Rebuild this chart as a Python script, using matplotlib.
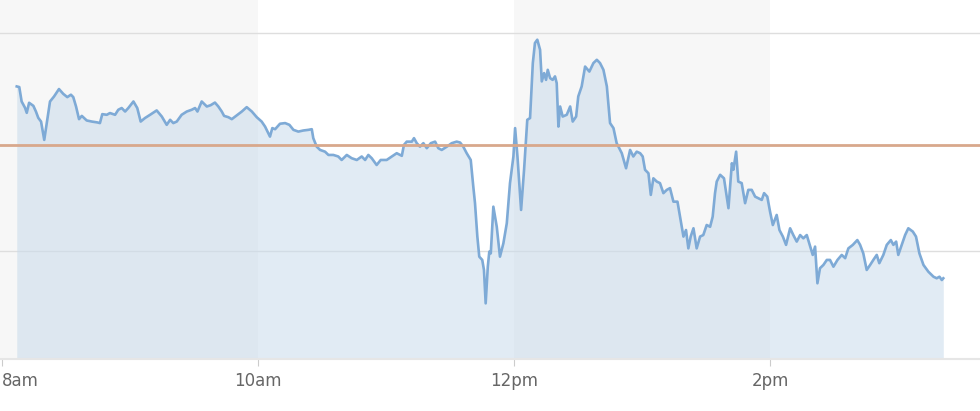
import numpy as np
import matplotlib.pyplot as plt

# minutes after 8am and price
minutes = [6.9, 8.1, 9.2, 10.8, 11.6, 12.7, 14.7, 15.9, 17.0, 18.3, 19.8, 21.0, 22.5, 24.4, 26.7, 28.7,
           30.6, 32.3, 33.4, 34.7, 36.1, 37.4, 39.7, 42.1, 44.7, 45.9, 47.0, 49.1, 50.6, 53.0, 54.5, 56.1,
           57.7, 59.2, 61.6, 63.4, 65.0, 67.0, 69.4, 72.5, 74.9, 77.2, 78.8, 80.3, 81.9, 84.2, 86.6, 88.9,
           90.5, 91.6, 93.6, 96.0, 97.8, 99.8, 101.4, 103.0, 104.1, 106.1, 107.7, 109.7, 112.4, 114.7, 117.1, 119.4,
           121.7, 123.3, 124.8, 125.6, 126.7, 128.0, 130.3, 132.7, 134.7, 136.6, 138.9, 141.2, 143.6, 145.2, 145.9, 147.5,
           149.1, 151.4, 153.0, 155.3, 157.6, 159.2, 161.6, 163.9, 166.3, 168.6, 170.2, 171.7, 173.3, 175.6, 177.5, 180.3,
           182.7, 185.0, 187.4, 188.4, 189.7, 192.1, 193.1, 194.4, 195.9, 197.5, 199.1, 201.0, 203.0, 204.5, 206.1, 208.5,
           210.8, 213.1, 214.7, 216.2, 217.8, 219.7, 220.9, 221.7, 222.8, 223.7, 225.1, 225.9, 226.7, 227.7, 228.4, 229.1,
           230.3, 231.9, 233.4, 235.0, 236.6, 238.1, 239.7, 240.5, 241.6, 243.3, 244.7, 246.2, 247.5, 248.8, 249.8, 250.9,
           252.2, 253.0, 254.1, 255.0, 255.8, 256.9, 258.1, 259.2, 260.0, 260.8, 261.6, 262.8, 264.7, 266.3, 267.5, 269.1,
           270.1, 271.7, 273.3, 275.3, 277.2, 278.8, 280.3, 281.9, 283.5, 285.0, 286.6, 288.1, 290.5, 292.5, 294.4, 295.9,
           297.5, 299.1, 300.3, 301.4, 303.0, 304.1, 305.3, 306.9, 308.4, 310.0, 311.6, 313.1, 314.7, 316.6, 317.8, 318.6,
           319.4, 320.6, 321.7, 322.8, 324.1, 325.6, 327.2, 328.7, 330.3, 331.9, 333.1, 334.2, 335.0, 336.6, 338.4, 340.5,
           342.1, 342.8, 344.1, 345.1, 346.7, 348.3, 349.8, 351.4, 353.0, 354.5, 356.1, 357.2, 358.7, 360.0, 361.3, 363.1,
           364.4, 366.0, 367.5, 369.4, 370.9, 372.5, 374.1, 375.6, 377.2, 378.8, 380.0, 381.1, 382.2, 383.4, 385.0, 386.6,
           388.1, 389.7, 391.6, 393.6, 395.2, 396.7, 398.8, 400.9, 402.2, 403.7, 405.3, 406.9, 408.4, 410.0, 411.2, 413.1,
           414.7, 416.6, 417.8, 419.1, 420.1, 421.7, 423.3, 424.8, 426.9, 428.4, 430.0, 431.9, 434.2, 436.6, 438.1, 439.4,
           440.5, 441.2]
price = [17.54, 17.51, 16.85, 16.56, 16.33, 16.79, 16.65, 16.39, 16.10, 15.93, 15.09, 15.86, 16.85, 17.08, 17.42, 17.20,
         17.05, 17.16, 17.05, 16.62, 16.04, 16.19, 15.98, 15.93, 15.89, 15.86, 16.27, 16.24, 16.32, 16.24, 16.47, 16.55,
         16.39, 16.55, 16.85, 16.55, 15.93, 16.09, 16.24, 16.44, 16.16, 15.78, 16.01, 15.86, 15.93, 16.24, 16.39, 16.47,
         16.55, 16.39, 16.85, 16.62, 16.68, 16.80, 16.62, 16.39, 16.19, 16.13, 16.04, 16.19, 16.39, 16.59, 16.39, 16.13,
         15.93, 15.70, 15.40, 15.24, 15.63, 15.58, 15.83, 15.86, 15.78, 15.55, 15.47, 15.52, 15.55, 15.58, 15.17, 14.78,
         14.63, 14.55, 14.40, 14.40, 14.33, 14.17, 14.40, 14.25, 14.17, 14.33, 14.17, 14.40, 14.25, 13.94, 14.17, 14.17,
         14.33, 14.48, 14.36, 14.86, 15.01, 15.01, 15.17, 14.94, 14.78, 14.94, 14.71, 14.94, 15.01, 14.71, 14.63, 14.78,
         14.94, 15.01, 14.97, 14.78, 14.48, 14.17, 12.95, 12.19, 10.66, 9.74, 9.59, 9.13, 7.60, 9.28, 9.97, 9.89,
         12.03, 11.11, 9.74, 10.35, 11.27, 13.11, 14.33, 15.63, 14.33, 11.88, 13.72, 16.01, 16.09, 18.61, 19.53, 19.68,
         19.22, 17.77, 18.15, 17.84, 18.30, 17.92, 17.84, 18.00, 17.69, 15.70, 16.62, 16.16, 16.24, 16.62, 15.93, 16.16,
         17.08, 17.54, 18.45, 18.22, 18.61, 18.76, 18.61, 18.30, 17.54, 15.86, 15.63, 14.94, 14.48, 13.79, 14.63, 14.33,
         14.55, 14.48, 14.33, 13.72, 13.56, 12.57, 13.33, 13.18, 13.11, 12.65, 12.80, 12.88, 12.26, 12.26, 11.57, 11.11,
         10.66, 10.96, 10.12, 10.66, 11.04, 10.12, 10.66, 10.73, 11.19, 11.11, 11.57, 12.65, 13.18, 13.49, 13.33, 11.96,
         14.02, 13.72, 14.55, 13.18, 13.11, 12.19, 12.80, 12.80, 12.49, 12.42, 12.34, 12.65, 12.49, 11.80, 11.19, 11.65,
         10.96, 10.66, 10.28, 11.04, 10.73, 10.43, 10.73, 10.58, 10.73, 10.20, 9.82, 10.20, 8.52, 9.21, 9.36, 9.59,
         9.59, 9.28, 9.59, 9.82, 9.67, 10.12, 10.28, 10.50, 10.28, 9.89, 9.13, 9.36, 9.59, 9.82, 9.44, 9.82,
         10.28, 10.50, 10.28, 10.43, 9.82, 10.28, 10.73, 11.04, 10.89, 10.66, 9.89, 9.36, 9.05, 8.82, 8.75, 8.82,
         8.67, 8.75]
prev_close = 14.86

tick_minutes = [0, 120, 240, 360]
tick_labels = ["8am", "10am", "12pm", "2pm"]
grid_levels = [10, 20]

fig = plt.figure(figsize=(9.8, 4.11), dpi=100)
ax = fig.add_axes([0, 0.1265, 1, 0.8735])
xmin, xmax = -0.94, 458.4
ymin, ymax = 5.05, 21.5

# alternating 2 hour bands
ax.axvspan(xmin, tick_minutes[1], color="#f7f7f7", lw=0, zorder=0)
ax.axvspan(tick_minutes[2], tick_minutes[3], color="#f7f7f7", lw=0, zorder=0)

for g in grid_levels:
    ax.axhline(g, color="#dedede", lw=1, zorder=1)

ax.fill_between(minutes, price, ymin, color="#c9dbeb", alpha=0.55, lw=0, zorder=2)
ax.plot(minutes, price, color="#7eaad6", lw=1.9, zorder=3)
ax.axhline(prev_close, color="#d8a88c", lw=2, zorder=4)   # previous close

ax.set_xlim(xmin, xmax)
ax.set_ylim(ymin, ymax)
ax.set_yticks([])
ax.set_xticks(tick_minutes)
ax.set_xticklabels(tick_labels, fontsize=12, color="#666666")
ax.get_xticklabels()[0].set_horizontalalignment("left")
ax.tick_params(axis="x", length=5, color="#cccccc", pad=4)

for side in ["top", "left", "right"]:
    ax.spines[side].set_visible(False)
ax.spines["bottom"].set_color("#e6e6e6")
ax.spines["bottom"].set_linewidth(1.5)

fig.savefig("out.png", dpi=100)
